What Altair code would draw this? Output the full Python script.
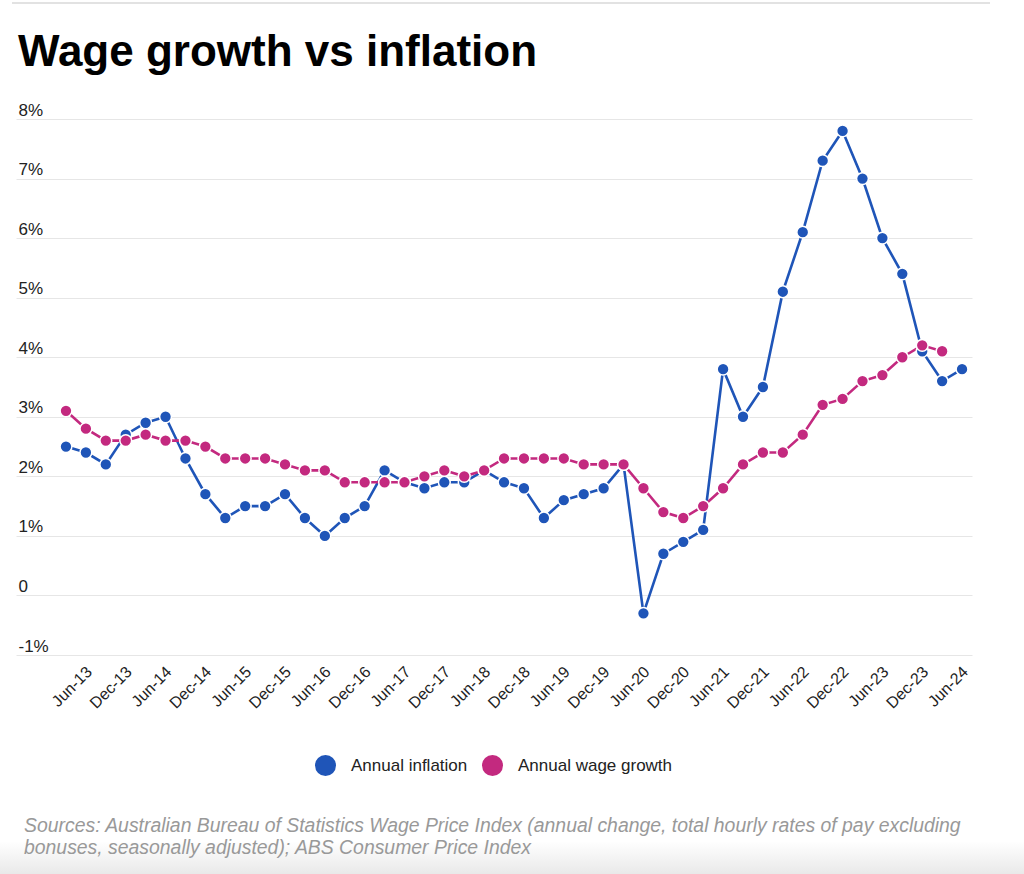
import altair as alt
import pandas as pd

quarters = [
    "Mar-13", "Jun-13", "Sep-13", "Dec-13", "Mar-14", "Jun-14", "Sep-14", "Dec-14",
    "Mar-15", "Jun-15", "Sep-15", "Dec-15", "Mar-16", "Jun-16", "Sep-16", "Dec-16",
    "Mar-17", "Jun-17", "Sep-17", "Dec-17", "Mar-18", "Jun-18", "Sep-18", "Dec-18",
    "Mar-19", "Jun-19", "Sep-19", "Dec-19", "Mar-20", "Jun-20", "Sep-20", "Dec-20",
    "Mar-21", "Jun-21", "Sep-21", "Dec-21", "Mar-22", "Jun-22", "Sep-22", "Dec-22",
    "Mar-23", "Jun-23", "Sep-23", "Dec-23", "Mar-24", "Jun-24",
]
inflation = [
    2.5, 2.4, 2.2, 2.7, 2.9, 3.0, 2.3, 1.7,
    1.3, 1.5, 1.5, 1.7, 1.3, 1.0, 1.3, 1.5,
    2.1, 1.9, 1.8, 1.9, 1.9, 2.1, 1.9, 1.8,
    1.3, 1.6, 1.7, 1.8, 2.2, -0.3, 0.7, 0.9,
    1.1, 3.8, 3.0, 3.5, 5.1, 6.1, 7.3, 7.8,
    7.0, 6.0, 5.4, 4.1, 3.6, 3.8,
]
wage_growth = [
    3.1, 2.8, 2.6, 2.6, 2.7, 2.6, 2.6, 2.5,
    2.3, 2.3, 2.3, 2.2, 2.1, 2.1, 1.9, 1.9,
    1.9, 1.9, 2.0, 2.1, 2.0, 2.1, 2.3, 2.3,
    2.3, 2.3, 2.2, 2.2, 2.2, 1.8, 1.4, 1.3,
    1.5, 1.8, 2.2, 2.4, 2.4, 2.7, 3.2, 3.3,
    3.6, 3.7, 4.0, 4.2, 4.1, None,
]
series_names = ["Annual inflation", "Annual wage growth"]
series_colors = ["#1f55b8", "#c3297f"]
y_ticks = [-1, 0, 1, 2, 3, 4, 5, 6, 7, 8]
label_quarters = [i for i, q in enumerate(quarters) if q.startswith(("Jun", "Dec"))]

title_text = "Wage growth vs inflation"
footer_lines = [
    "Sources: Australian Bureau of Statistics Wage Price Index (annual change, total hourly rates of pay excluding",
    "bonuses, seasonally adjusted); ABS Consumer Price Index",
]

rows = []
for name, vals in zip(series_names, [inflation, wage_growth]):
    for i, (q, v) in enumerate(zip(quarters, vals)):
        if v is not None:
            rows.append({"idx": i, "quarter": q, "value": v, "series": name})
df = pd.DataFrame(rows)

FONT = "Liberation Sans"
label_array = "[" + ",".join("'" + q + "'" for q in quarters) + "]"

x_enc = alt.X(
    "idx:Q",
    scale=alt.Scale(domain=[-2.51, 45.5], nice=False, zero=False),
    axis=alt.Axis(
        values=label_quarters,
        labelExpr=label_array + "[datum.value]",
        title=None, grid=False, domain=False, ticks=False,
        labelAngle=-45, labelAlign="right", labelBaseline="middle",
        labelPadding=14, labelOffset=3, labelFontSize=16, labelFont=FONT, labelColor="#222",
        labelOverlap=False,
    ),
)
y_enc = alt.Y(
    "value:Q",
    scale=alt.Scale(domain=[-1, 8], nice=False),
    axis=alt.Axis(
        values=y_ticks,
        labelExpr="datum.value == 0 ? '0' : datum.value + '%'",
        title=None, domain=False, ticks=False,
        grid=True, gridColor="#e6e6e6", gridWidth=1,
        labelAlign="left", labelBaseline="alphabetic",
        labelPadding=-2, labelOffset=-4,
        labelFontSize=17, labelFont=FONT, labelColor="#222",
    ),
)

color_scale = alt.Scale(domain=series_names, range=series_colors)

base = alt.Chart(df)
line_layers = [
    base.transform_filter(alt.datum.series == name)
    .mark_line(color=col, strokeWidth=2.6)
    .encode(x=x_enc, y=y_enc)
    for name, col in zip(series_names, series_colors)
]
points = base.mark_circle(size=140, opacity=1, stroke="white", strokeWidth=1.5).encode(
    x=x_enc, y=y_enc,
    fill=alt.Fill(
        "series:N", scale=color_scale,
        legend=alt.Legend(
            title=None, orient="none", legendX=299, legendY=636,
            direction="horizontal", symbolType="circle", symbolSize=441,
            symbolStrokeWidth=0, symbolOpacity=1, labelOffset=15, columnPadding=14,
            labelFontSize=17, labelFont=FONT, labelColor="#222",
        ),
    ),
    order=alt.Order("series:N"),
)

one = pd.DataFrame({"k": [0]})
top_rule = alt.Chart(one).mark_rule(color="#e2e2e2", strokeWidth=2).encode(
    x=alt.value(-4), x2=alt.value(974), y=alt.value(-116)
)
bottom_band = alt.Chart(one).mark_rect(
    color=alt.LinearGradient(
        gradient="linear", x1=0, x2=0, y1=0, y2=1,
        stops=[alt.GradientStop(offset=0, color="#ffffff"),
               alt.GradientStop(offset=1, color="#e9e9e9")],
    )
).encode(x=alt.value(-16), x2=alt.value(1008), y=alt.value(722), y2=alt.value(755))
footer = alt.Chart(one).mark_text(
    text=footer_lines, align="left", baseline="alphabetic",
    font=FONT, fontSize=19.4, fontStyle="italic", color="#999999", lineHeight=22,
).encode(x=alt.value(8), y=alt.value(713))

chart = alt.layer(bottom_band, top_rule, *line_layers, points, footer).properties(
    width=956, height=536,
    padding={"left": 16, "top": 119, "right": 52, "bottom": 219},
    autosize=alt.AutoSizeParams(type="none"),
    title=alt.TitleParams(
        title_text, anchor="start", frame="group", fontSize=44, font=FONT,
        fontWeight="bold", color="#000", baseline="alphabetic", offset=20, dx=2, dy=128,
    ),
).configure_view(strokeWidth=0)

chart.save("out.html", embed_options={"renderer": "svg", "actions": False})
